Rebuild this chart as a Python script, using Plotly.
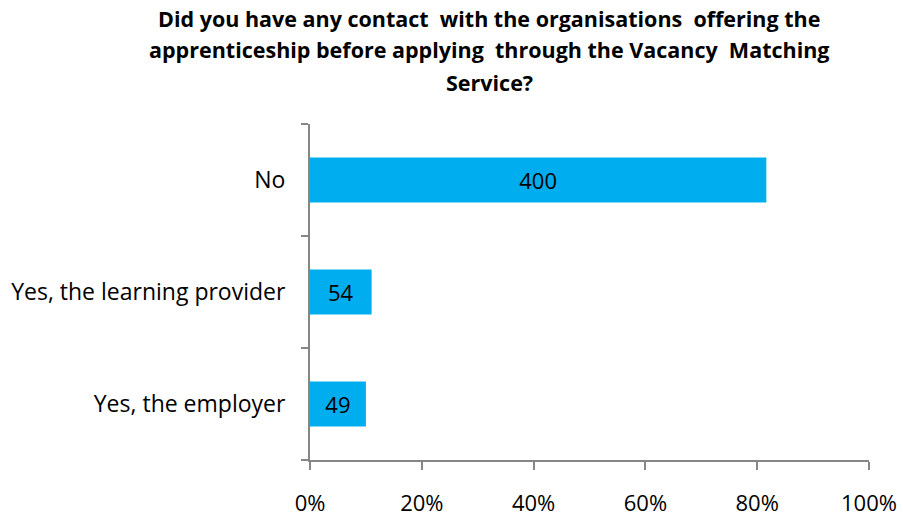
import plotly.graph_objects as go

# Survey responses (number of respondents choosing each option)
categories = ["No", "Yes, the learning provider", "Yes, the employer"]
counts = [400, 54, 49]
respondent_base = 490  # all respondents answering the question

x_tick_vals = [0, 0.2, 0.4, 0.6, 0.8, 1.0]
x_tick_text = ["0%", "20%", "40%", "60%", "80%", "100%"]

title_lines = [
    "Did you have any contact  with the organisations  offering the",
    "apprenticeship before applying  through the Vacancy  Matching",
    "Service?",
]

shares = [c / respondent_base for c in counts]

FONT = "'Open Sans', Lato, sans-serif"
AXIS_GREY = "#868686"

fig = go.Figure(
    go.Bar(
        x=shares,
        y=categories,
        orientation="h",
        marker=dict(color="#00ADEE", line=dict(width=0)),
        width=0.4,
        text=[str(c) for c in counts],
        textposition="inside",
        insidetextanchor="middle",
        textangle=0,
        insidetextfont=dict(family=FONT, size=22, color="#000000"),
        hoverinfo="skip",
    )
)

fig.update_layout(
    width=903,
    height=518,
    margin=dict(l=310, r=34, t=124, b=58),
    paper_bgcolor="white",
    plot_bgcolor="white",
    showlegend=False,
    uniformtext=dict(mode=False),
)

# Three-line bold heading, each line placed in pixels from the top
for i, line in enumerate(title_lines):
    fig.add_annotation(
        text=line,
        xref="paper",
        yref="paper",
        x=(489 - 310) / (903 - 310 - 34),
        y=1 + (124 - (18 + 32 * i)) / (518 - 124 - 58),
        xanchor="center",
        yanchor="middle",
        showarrow=False,
        font=dict(family=FONT, size=21.5, color="#000000", weight="bold"),
    )

fig.update_xaxes(
    range=[0, 1.0],
    tickvals=x_tick_vals,
    ticktext=x_tick_text,
    showgrid=False,
    zeroline=False,
    showline=True,
    linecolor=AXIS_GREY,
    linewidth=2,
    ticks="outside",
    ticklen=8,
    tickwidth=2,
    tickcolor=AXIS_GREY,
    ticklabelstandoff=15,
    automargin=False,
    tickfont=dict(family=FONT, size=22, color="#000000"),
)

fig.update_yaxes(
    categoryorder="array",
    categoryarray=categories[::-1],
    autorange=False,
    range=[-0.5, 2.5],
    showgrid=False,
    zeroline=False,
    showline=True,
    linecolor=AXIS_GREY,
    linewidth=2,
    ticks="outside",
    tickson="boundaries",
    ticklen=7,
    tickwidth=2,
    tickcolor=AXIS_GREY,
    ticklabelstandoff=18,
    automargin=False,
    tickfont=dict(family=FONT, size=23, color="#000000"),
)

fig.write_html("out.html")
